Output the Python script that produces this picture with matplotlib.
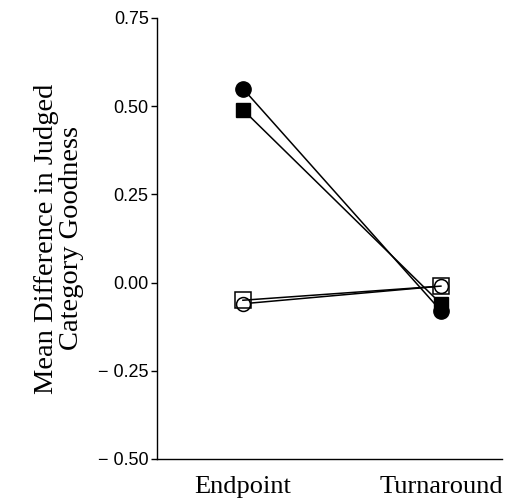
import matplotlib
matplotlib.use("Agg")
import matplotlib.pyplot as plt
from matplotlib.ticker import FixedLocator, FuncFormatter

# Conditions on the x axis
conditions = ["Endpoint", "Turnaround"]

# Mean difference in judged category goodness, one list per group
filled_circle = [0.55, -0.08]
filled_square = [0.49, -0.06]
open_square = [-0.05, -0.01]
open_circle = [-0.06, -0.01]

y_ticks = [-0.50, -0.25, 0.00, 0.25, 0.50, 0.75]

fig = plt.figure(figsize=(5.08, 5.04), dpi=100)
ax = fig.add_axes([0.309, 0.0893, 0.679, 0.875])

x = list(range(len(conditions)))
line_kw = dict(color="black", linewidth=1.1)

ax.plot(x, filled_circle, marker="o", markersize=11, markerfacecolor="black",
        markeredgecolor="black", zorder=3, **line_kw)
ax.plot(x, filled_square, marker="s", markersize=10, markerfacecolor="black",
        markeredgecolor="black", zorder=3, **line_kw)
ax.plot(x, open_circle, marker="o", markersize=10, markerfacecolor="white",
        markeredgecolor="black", markeredgewidth=1.1, zorder=4, **line_kw)
ax.plot(x, open_square, marker="s", markersize=11, markerfacecolor="none",
        markeredgecolor="black", markeredgewidth=1.1, zorder=5, **line_kw)

ax.set_xlim(-0.434, 1.308)
ax.set_ylim(-0.50, 0.75)

ax.xaxis.set_major_locator(FixedLocator(x))
ax.set_xticklabels(conditions, fontfamily="Liberation Serif", fontsize=19)
ax.tick_params(axis="x", length=0, pad=12)

ax.yaxis.set_major_locator(FixedLocator(y_ticks))
ax.yaxis.set_major_formatter(
    FuncFormatter(lambda v, _: ("\u2212 " if v < 0 else "") + f"{abs(v):.2f}"))
ax.tick_params(axis="y", length=4, width=1, direction="out", pad=2,
               labelsize=13)
for lbl in ax.get_yticklabels():
    lbl.set_fontfamily("Liberation Sans")

for side in ("top", "right"):
    ax.spines[side].set_visible(False)
for side in ("left", "bottom"):
    ax.spines[side].set_linewidth(1.0)

ax.set_ylabel("Mean Difference in Judged\nCategory Goodness",
              fontfamily="Liberation Serif", fontsize=20.5, linespacing=1.0,
              labelpad=10)

fig.savefig("out.png", dpi=100, facecolor="white")
